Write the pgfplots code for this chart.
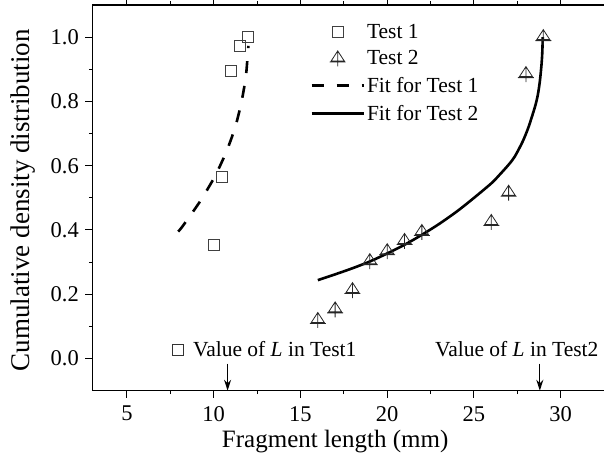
\documentclass[border=0pt]{standalone}
\usepackage{fontspec}
\setmainfont{Liberation Serif}
\usepackage{pgfplots}
\pgfplotsset{compat=1.18}
\usetikzlibrary{arrows.meta}

% triangle with a cross through it
\pgfdeclareplotmark{tricross}{%
  \pgfpathmoveto{\pgfpoint{0pt}{7.5pt}}%
  \pgfpathlineto{\pgfpoint{-6.5pt}{-2.5pt}}%
  \pgfpathlineto{\pgfpoint{6.5pt}{-2.5pt}}%
  \pgfpathclose
  \pgfpathmoveto{\pgfpoint{0pt}{7.5pt}}%
  \pgfpathlineto{\pgfpoint{0pt}{-8pt}}%
  \pgfpathmoveto{\pgfpoint{-8pt}{-3.5pt}}%
  \pgfpathlineto{\pgfpoint{8pt}{-3.5pt}}%
  \pgfusepathqstroke}

\begin{document}
\begin{tikzpicture}
\begin{axis}[
  scale only axis,
  width=511.7pt, height=385.7pt,
  xmin=3, xmax=32.5, ymin=-0.1, ymax=1.1,
  axis x line*=box, axis y line*=left,
  axis line style={line width=1.2pt},
  tick style={line width=1pt, black},
  tick align=outside,
  major tick length=7pt, minor tick length=3.5pt,
  xtick={5,10,...,30}, minor x tick num=1,
  ytick={0,0.2,...,1.0}, minor y tick num=1,
  /pgf/number format/assume math mode=true,
  tick label style={font=\fontsize{22.5}{26}\selectfont},
  xticklabel style={yshift=-5pt},
  yticklabel style={xshift=-3pt, /pgf/number format/.cd, fixed, fixed zerofill, precision=1},
  xlabel={Fragment length (mm)},
  ylabel={Cumulative density distribution},
  xlabel style={font=\fontsize{25}{30}\selectfont, at={(axis description cs:0.4746,0)}, anchor=base, yshift=-57pt},
  ylabel style={font=\fontsize{27}{32}\selectfont, at={(axis description cs:0,0.494)}, anchor=center, yshift=69pt},
  legend image code/.code={\draw[mark repeat=2,mark phase=2,#1] plot coordinates {(0pt,0pt)(26pt,0pt)(52pt,0pt)};},
  legend style={draw=none, fill=none, at={(0.42,0.962)}, anchor=north west,
    font=\fontsize{21.5}{25}\selectfont, row sep=7pt},
  legend cell align=left,
]
\addplot[only marks, mark=square, mark size=5.5pt, mark options={solid, draw=black!75, line width=0.9pt}] coordinates {
  (10,0.353) (10.5,0.566) (11,0.894) (11.5,0.972) (12,1.0)};
\addlegendentry{Test 1}
\addplot[only marks, mark=tricross, mark options={solid, draw=black!85, line width=0.8pt}] coordinates {
  (16,0.12) (17,0.153) (18,0.213) (19,0.303) (20,0.334) (21,0.366) (22,0.394)
  (26,0.425) (27,0.516) (28,0.885) (29,1.0)};
\addlegendentry{Test 2}
\addplot[black, line width=2.6pt, dash pattern=on 12pt off 13pt, smooth, tension=0.4] coordinates {
  (7.95,0.395) (8.21,0.412) (9.2,0.488) (10.07,0.567) (10.74,0.645) (11.24,0.72)
  (11.6,0.798) (11.85,0.876) (11.97,0.952) (12.0,0.973)};
\addlegendentry{Fit for Test 1}
\addplot[black, line width=2.6pt, smooth, tension=0.5] coordinates {
  (16,0.244) (17,0.262) (18,0.281) (19,0.302) (20,0.327) (21,0.354) (22,0.385)
  (23,0.419) (24,0.457) (24.87,0.494) (26,0.545) (26.5,0.573) (27,0.603)
  (27.35,0.628) (27.8,0.674) (28.1,0.713) (28.33,0.75) (28.55,0.789) (28.69,0.822)
  (28.8,0.862) (28.89,0.91) (28.94,0.95) (28.97,1.0)};
\addlegendentry{Fit for Test 2}

% annotations for L
\node[draw=black!80, line width=0.9pt, minimum size=11pt, inner sep=0pt] at (axis cs:7.94,0.028) {};
\node[anchor=west, inner sep=0pt, font=\fontsize{21.5}{25}\selectfont] at (axis cs:8.8,0.028) {Value of \textit{L} in Test1};
\node[anchor=east, inner sep=0pt, font=\fontsize{21.5}{25}\selectfont] at (axis cs:32.19,0.028) {Value of \textit{L} in Test2};
\draw[-{Stealth[length=11pt,width=7pt]}, line width=1.3pt] (axis cs:10.8,-0.016) -- (axis cs:10.8,-0.1);
\draw[-{Stealth[length=11pt,width=7pt]}, line width=1.3pt] (axis cs:28.8,-0.016) -- (axis cs:28.8,-0.1);

\coordinate (bbsw) at (rel axis cs:0,0);
\coordinate (bbne) at (rel axis cs:1,1);
\end{axis}
\pgfresetboundingbox
\path[use as bounding box] ([shift={(-92.3pt,-67.3pt)}]bbsw) rectangle ([shift={(0pt,5pt)}]bbne);
\end{tikzpicture}
\end{document}
